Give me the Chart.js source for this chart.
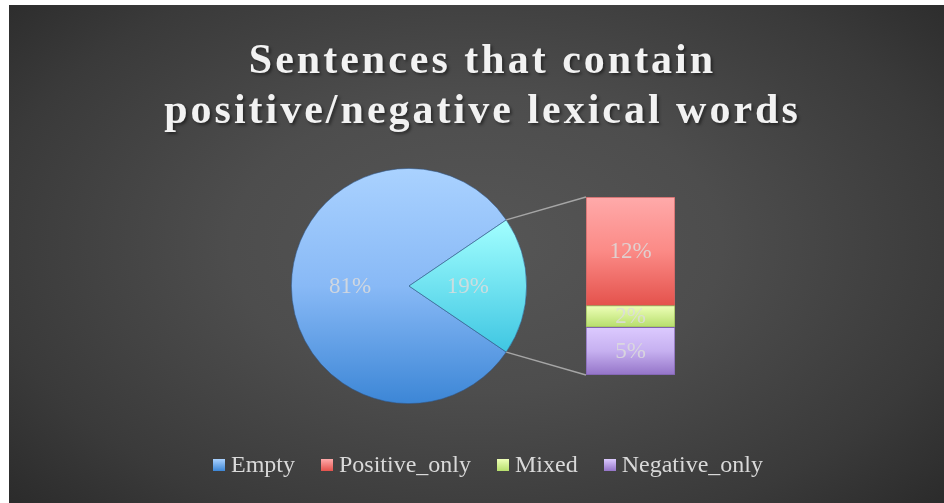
<!DOCTYPE html>
<html>
<head>
<meta charset="utf-8">
<script src="https://cdn.jsdelivr.net/npm/chart.js@4/dist/chart.umd.min.js"></script>
<style>
  html, body { margin: 0; padding: 0; background: #ffffff; }
  body { width: 944px; height: 503px; position: relative; overflow: hidden; }
  #panel {
    position: absolute; left: 9px; top: 5px; width: 935px; height: 498px;
    background: radial-gradient(ellipse 75% 85% at 50% 48%, #565656 0%, #4d4d4d 35%, #3a3a3a 70%, #242424 100%);
  }
  #title {
    position: absolute; left: 6px; top: 29px; width: 935px; text-align: center;
    font-family: "Liberation Serif", "Times New Roman", serif; font-weight: bold;
    font-size: 42px; line-height: 50px; letter-spacing: 3px; color: #f2f2f2;
    text-shadow: 2px 2px 3px rgba(0,0,0,0.45);
  }
  canvas { position: absolute; left: 0; top: 0; }
  #legend {
    position: absolute; left: 204px; top: 444px; display: flex;
    font-family: "Liberation Serif", "Times New Roman", serif; font-size: 24px; line-height: 30px; color: #d9d9d9;
    white-space: nowrap;
  }
  .item { display: flex; align-items: center; margin-right: 26px; }
  .box { width: 12px; height: 12px; margin-right: 6px; margin-top: 1px; }
</style>
</head>
<body>
<div id="panel">
  <canvas id="pie" width="935" height="498"></canvas>
  <canvas id="bar" width="935" height="498"></canvas>
  <div id="title">Sentences that contain<br>positive/negative lexical words</div>
  <div id="legend"></div>
</div>
<script>
// ---- data ----
const pieCategories = ['Empty', 'Other'];
const pieValues = [81.0, 19.0];
const barCategories = ['Positive_only', 'Mixed', 'Negative_only'];
const barValues = [11.6, 2.3, 5.1];
const legendCategories = ['Empty', 'Positive_only', 'Mixed', 'Negative_only'];

// ---- styles ----
const labelFont = '23px "Liberation Serif", "Times New Roman", serif';
const labelColor = 'rgba(220,220,220,0.85)';
const pieStops = [
  [[0, '#aad2ff'], [0.5, '#88b9f6'], [1, '#3c86d6']],
  [[0, '#b8ffff'], [0.22, '#a2ffff'], [0.78, '#3fc6e2'], [1, '#30b0d0']]
];
const barStops = [
  [[0, '#ffaaaa'], [0.5, '#fb8a86'], [1, '#e4524c']],
  [[0, '#eeffb8'], [1, '#b6de6c']],
  [[0, '#dccaff'], [0.5, '#c6b0f0'], [1, '#9474c8']]
];
const barBorders = ['#c86464', '#98b858', '#8064b0'];
const legendColors = [['#aad2ff', '#3c86d6'], ['#ffaaaa', '#e4524c'], ['#eeffb8', '#b6de6c'], ['#dccaff', '#9474c8']];

function makeGrad(c, y0, y1, stops) {
  const g = c.createLinearGradient(0, y0, 0, y1);
  stops.forEach(s => g.addColorStop(s[0], s[1]));
  return g;
}

const labelPlugin = {
  id: 'valueLabels',
  afterDatasetsDraw(chart) {
    const c = chart.ctx;
    c.save();
    c.font = labelFont;
    c.fillStyle = labelColor;
    c.textAlign = 'center';
    c.textBaseline = 'middle';
    chart.data.datasets.forEach((ds, di) => {
      const meta = chart.getDatasetMeta(di);
      meta.data.forEach((el, i) => {
        const v = ds.data[i];
        let x, y;
        if (chart.config.type === 'pie') {
          const p = el.tooltipPosition();
          x = p.x; y = p.y;
        } else {
          x = el.x; y = (el.y + el.base) / 2;
        }
        c.fillText(Math.round(v) + '%', x, y + 1);
      });
    });
    c.restore();
  }
};

// ---- pie ----
const pieCx = 400, pieCy = 281, pieR = 118;
const pieChart = new Chart(document.getElementById('pie'), {
  type: 'pie',
  data: {
    labels: pieCategories,
    datasets: [{
      data: pieValues,
      backgroundColor: (ctx) => {
        const ch = ctx.chart;
        if (!ch.chartArea) return '#88b9f6';
        return makeGrad(ch.ctx, ch.chartArea.top, ch.chartArea.bottom, pieStops[ctx.dataIndex]);
      },
      borderColor: 'rgba(50,90,140,0.7)',
      borderWidth: 0.8
    }]
  },
  options: {
    responsive: false,
    animation: false,
    rotation: 90 + 360 * pieValues[1] / 200,
    layout: { padding: { left: pieCx - pieR, right: 935 - pieCx - pieR, top: pieCy - pieR, bottom: 498 - pieCy - pieR } },
    plugins: { legend: { display: false }, title: { display: false }, tooltip: { enabled: false } }
  },
  plugins: [labelPlugin]
});

// ---- bar ----
const barLeft = 577, barWidth = 89, barTop = 192, barBottom = 370;
const stackOrder = [2, 1, 0]; // bottom to top: Negative_only, Mixed, Positive_only
const barDatasets = stackOrder.map(i => ({
  label: barCategories[i],
  data: [barValues[i]],
  backgroundColor: (ctx) => {
    const ch = ctx.chart;
    if (!ch.chartArea || !ch.scales.y) return barStops[i][0][1];
    let start = 0;
    for (const j of stackOrder) { if (j === i) break; start += barValues[j]; }
    const yb = ch.scales.y.getPixelForValue(start);
    const yt = ch.scales.y.getPixelForValue(start + barValues[i]);
    return makeGrad(ch.ctx, yt, yb, barStops[i]);
  },
  borderColor: barBorders[i],
  borderWidth: 1,
  borderSkipped: false,
  barPercentage: 1,
  categoryPercentage: 1
}));

const connectorPlugin = {
  id: 'connectors',
  beforeDatasetsDraw(chart) {
    const arc = pieChart.getDatasetMeta(0).data[1];
    const p = arc.getProps(['x', 'y', 'startAngle', 'endAngle', 'outerRadius']);
    const metas = chart.data.datasets.map((d, k) => chart.getDatasetMeta(k));
    const topEl = metas[metas.length - 1].data[0];
    const botEl = metas[0].data[0];
    const bx = topEl.x - topEl.width / 2;
    const c = chart.ctx;
    c.save();
    c.strokeStyle = '#a6a6a6';
    c.lineWidth = 1.5;
    c.beginPath();
    c.moveTo(p.x + p.outerRadius * Math.cos(p.startAngle), p.y + p.outerRadius * Math.sin(p.startAngle));
    c.lineTo(bx, topEl.y);
    c.moveTo(p.x + p.outerRadius * Math.cos(p.endAngle), p.y + p.outerRadius * Math.sin(p.endAngle));
    c.lineTo(bx, botEl.base);
    c.stroke();
    c.restore();
  }
};

const barChart = new Chart(document.getElementById('bar'), {
  type: 'bar',
  data: { labels: ['Other'], datasets: barDatasets },
  options: {
    responsive: false,
    animation: false,
    layout: { padding: { left: barLeft, right: 935 - barLeft - barWidth, top: barTop, bottom: 498 - barBottom } },
    scales: {
      x: { display: false, stacked: true },
      y: { display: false, stacked: true, min: 0, max: barValues.reduce((a, b) => a + b, 0) }
    },
    plugins: { legend: { display: false }, title: { display: false }, tooltip: { enabled: false } }
  },
  plugins: [connectorPlugin, labelPlugin]
});

// ---- legend ----
const legendEl = document.getElementById('legend');
legendCategories.forEach((name, i) => {
  const it = document.createElement('div');
  it.className = 'item';
  const b = document.createElement('span');
  b.className = 'box';
  b.style.background = 'linear-gradient(' + legendColors[i][0] + ',' + legendColors[i][1] + ')';
  const t = document.createElement('span');
  t.textContent = name;
  it.appendChild(b); it.appendChild(t);
  legendEl.appendChild(it);
});
</script>
</body>
</html>
